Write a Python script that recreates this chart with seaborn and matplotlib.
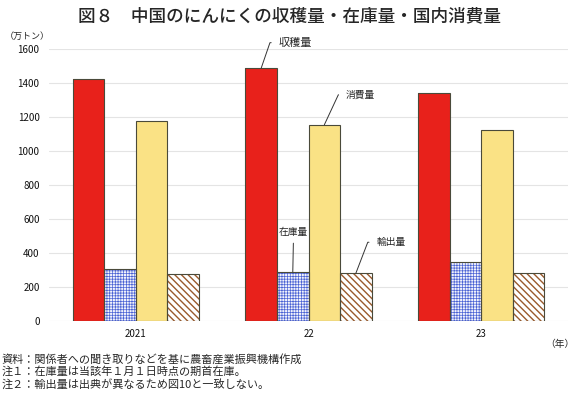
import pandas as pd
import matplotlib
matplotlib.use("Agg")
import matplotlib.pyplot as plt
import seaborn as sns

# data (万トン)
years = ["2021", "22", "23"]
series = ["収穫量", "在庫量", "消費量", "輸出量"]
harvest = [1427, 1490, 1345]
stock = [305, 288, 345]
consumption = [1175, 1155, 1122]
exports = [274, 280, 280]

notes = [
    "資料：関係者への聞き取りなどを基に農畜産業振興機構作成",
    "注１：在庫量は当該年１月１日時点の期首在庫。",
    "注２：輸出量は出典が異なるため図10と一致しない。",
]

df = pd.DataFrame({
    "year": years * 4,
    "kind": [s for s in series for _ in years],
    "value": harvest + stock + consumption + exports,
})

sns.set_theme(style="white")
plt.rcParams["font.family"] = ["Noto Sans CJK JP", "DejaVu Sans"]
plt.rcParams["hatch.linewidth"] = 0.6

fig = plt.figure(figsize=(5.8, 3.99), dpi=100)
ax = fig.add_axes([0.085, 0.1962, 0.894, 0.6802])

group_w = 0.73
bar_w = group_w / len(series)
face = ["#E8211B", "#F2F3FC", "#FAE285", "#FFFFFF"]

sns.barplot(data=df, x="year", y="value", hue="kind", order=years,
            hue_order=series, palette=face, saturation=1, width=group_w,
            gap=0, linewidth=0, legend=False, ax=ax)

# hatches for stock (blue grid) and exports (brown diagonal)
hatch_style = {1: ("++++++", "#4A62D4", 0.5), 3: ("\\\\\\\\\\", "#9A5A2C", 1.0)}
for i, cont in enumerate(ax.containers):
    if i in hatch_style:
        h, c, hlw = hatch_style[i]
        for p in cont:
            p.set_hatch(h)
            p.set_edgecolor(c)
            p.set_linewidth(0)
            if hasattr(p, "set_hatch_linewidth"):
                p.set_hatch_linewidth(hlw)

# outlines
sns.barplot(data=df, x="year", y="value", hue="kind", order=years,
            hue_order=series, palette=["#4A4A3A"] * 4, saturation=1,
            width=group_w, gap=0, fill=False, linewidth=0.8, legend=False,
            ax=ax)

ax.set_ylim(0, 1600)
ax.set_xlim(-0.5, 2.5)
ax.set_yticks(range(0, 1601, 200))
ax.yaxis.grid(True, color="#E4E4E4", lw=0.8)
ax.set_axisbelow(True)
for s in ax.spines.values():
    s.set_visible(False)
ax.tick_params(axis="both", length=0, labelsize=7, colors="#111111")
ax.tick_params(axis="y", pad=7)
ax.tick_params(axis="x", pad=6)
ax.set_xlabel("")
ax.set_ylabel("")

# leader labels on the 2022 group
line_kw = dict(arrowstyle="-", lw=0.7, color="#333333", shrinkB=0)
ax.annotate("収穫量", xy=(1 - 1.5 * bar_w, harvest[1]), xytext=(12.5, 18.2),
            textcoords="offset points", ha="left", va="center", fontsize=8,
            arrowprops=dict(line_kw, relpos=(0, 0.5), shrinkA=3,
                            connectionstyle="angle,angleA=180,angleB=71,rad=0"))
ax.annotate("消費量", xy=(1 + 0.5 * bar_w, consumption[1]), xytext=(15.6, 21.6),
            textcoords="offset points", ha="left", va="center", fontsize=7,
            arrowprops=dict(line_kw, relpos=(0, 0.5), shrinkA=3,
                            connectionstyle="angle,angleA=180,angleB=65,rad=0"))
ax.annotate("輸出量", xy=(1 + 1.5 * bar_w, exports[1]), xytext=(14.8, 22.3),
            textcoords="offset points", ha="left", va="center", fontsize=7,
            arrowprops=dict(line_kw, relpos=(0, 0.5), shrinkA=3,
                            connectionstyle="angle,angleA=180,angleB=69,rad=0"))
ax.annotate("在庫量", xy=(1 - 0.5 * bar_w, stock[1]), xytext=(0.5, 28.6),
            textcoords="offset points", ha="center", va="center", fontsize=7,
            arrowprops=dict(line_kw, relpos=(0.5, 0), shrinkA=2))

fig.text(0.5, 1 - 16 / 399, "図８　中国のにんにくの収穫量・在庫量・国内消費量",
         ha="center", va="center", fontsize=12.7, fontweight="medium")
fig.text(5 / 580, 1 - 36 / 399, "（万トン）", ha="left", va="center", fontsize=6.5)
fig.text(575 / 580, 1 - 344 / 399, "（年）", ha="right", va="center", fontsize=7)
for k, line in enumerate(notes):
    fig.text(2 / 580, 1 - (359 + 12.5 * k) / 399, line, ha="left", va="center",
             fontsize=8)

fig.savefig("out.png", dpi=100)
